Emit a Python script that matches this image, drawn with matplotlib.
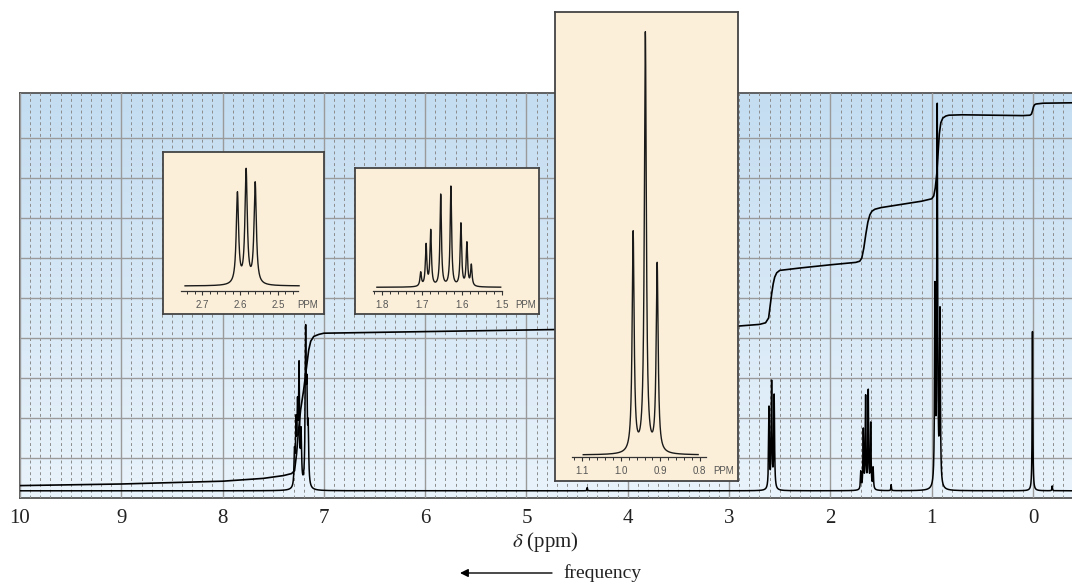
import numpy as np
import matplotlib.pyplot as plt
from matplotlib.colors import LinearSegmentedColormap
from matplotlib.ticker import MultipleLocator

plt.rcParams['mathtext.fontset'] = 'stix'

W, H = 1072, 582

# ---- main spectrum peaks: ppm and height above baseline (grid units)
baseline = 0.18
arom_ppm = [7.290, 7.275, 7.260, 7.245, 7.225, 7.180, 7.168, 7.155]
arom_h = [1.10, 1.90, 2.35, 3.25, 1.60, 4.15, 2.90, 1.80]
ch2a_ppm = [2.606, 2.580, 2.555]
ch2a_h = [2.12, 2.77, 2.42]
ch2b_ppm = [1.700, 1.675, 1.652, 1.626, 1.602, 1.578]
ch2b_h = [0.50, 1.57, 2.40, 2.54, 1.72, 0.60]
ch3_ppm = [0.968, 0.945, 0.918]
ch3_h = [5.23, 9.69, 4.60]
tms_ppm = [0.005]
tms_h = [3.98]
small_ppm = [4.40, 1.40, -0.19]
small_h = [0.08, 0.15, 0.12]

# ---- integral trace
integral_ppm = [10.0, 9.0, 8.0, 7.6, 7.4, 7.32, 7.29, 7.27, 7.25, 7.23,
                7.20, 7.17, 7.15, 7.13, 7.10, 7.05, 7.0, 6.5, 6.0, 5.0,
                4.0, 3.0, 2.7, 2.64, 2.61, 2.595, 2.58, 2.565, 2.55, 2.53,
                2.5, 2.4, 2.3, 2.0, 1.75, 1.71, 1.69, 1.67, 1.65, 1.63,
                1.61, 1.59, 1.56, 1.5, 1.3, 1.1, 1.0, 0.98, 0.965, 0.95,
                0.94, 0.925, 0.91, 0.89, 0.86, 0.83, 0.7, 0.4, 0.1, 0.03,
                0.015, 0.005, -0.005, -0.015, -0.03, -0.1, -0.385]
integral_val = [0.31, 0.35, 0.42, 0.49, 0.56, 0.61, 0.68, 1.1, 1.7, 2.2,
                2.7, 3.3, 3.7, 3.92, 4.04, 4.09, 4.12, 4.14, 4.16, 4.2,
                4.24, 4.28, 4.34, 4.38, 4.5, 4.8, 5.1, 5.35, 5.52, 5.63,
                5.69, 5.72, 5.75, 5.83, 5.89, 5.92, 6.0, 6.25, 6.6, 6.9,
                7.08, 7.17, 7.22, 7.26, 7.34, 7.42, 7.48, 7.55, 7.75, 8.1,
                8.5, 9.1, 9.38, 9.5, 9.55, 9.57, 9.58, 9.57, 9.56, 9.57,
                9.6, 9.68, 9.78, 9.83, 9.85, 9.87, 9.88]

ppm_labels = ['10', '9', '8', '7', '6', '5', '4', '3', '2', '1', '0']

# ---- expansions (heights in inset pixels above baseline)
ins1_ppm = [2.607, 2.584, 2.560]
ins1_h = [94.3, 117.7, 104.3]
ins2_ppm = [1.7025, 1.689, 1.6775, 1.6525, 1.627, 1.602, 1.587, 1.576]
ins2_h = [15.6, 44.0, 58.0, 93.3, 101.3, 64.6, 45.6, 23.3]
ins3_ppm = [0.969, 0.938, 0.908]
ins3_h = [224.3, 423.3, 192.7]
ins1_ticks = [2.7, 2.6, 2.5]
ins2_ticks = [1.8, 1.7, 1.6, 1.5]
ins3_ticks = [1.1, 1.0, 0.9, 0.8]


def lorentz(x, x0, g):
    return g ** 2 / ((x - x0) ** 2 + g ** 2)


def multiplet(x, centers, heights, g):
    # amplitudes chosen so the summed curve hits the read peak heights
    c = np.asarray(centers)
    m = lorentz(c[:, None], c[None, :], g)
    amps = np.linalg.solve(m, np.asarray(heights))
    return sum(a * lorentz(x, x0, g) for a, x0 in zip(amps, c))


def px_axes(fig, x0, y0, x1, y1, **kw):
    return fig.add_axes([x0 / W, 1 - y1 / H, (x1 - x0) / W, (y1 - y0) / H], **kw)


fig = plt.figure(figsize=(W / 100, H / 100), dpi=100)
fig.patch.set_facecolor('white')

XL = (10.0, -0.385)
YL = (0.0, 10.125)
ax = px_axes(fig, 20, 93, 1072, 498)

bg = LinearSegmentedColormap.from_list('bg', ['#e9f3fb', '#c4ddf1'])
ax.imshow(np.linspace(0, 1, 256)[:, None], origin='lower', cmap=bg,
          extent=[XL[0], XL[1], YL[0], YL[1]], aspect='auto', zorder=0)

ax.set_xlim(*XL)
ax.set_ylim(*YL)
ax.set_xticks(range(10, -1, -1))
ax.set_xticklabels(ppm_labels, family='Liberation Serif', fontsize=15, color='#222222')
ax.xaxis.set_minor_locator(MultipleLocator(0.1))
ax.set_yticks(range(1, 10))
ax.set_yticklabels([])
ax.tick_params(which='both', length=0)
ax.tick_params(axis='x', pad=8)
ax.grid(which='major', color='#9a9a9a', lw=1.0, zorder=1)
ax.grid(which='minor', axis='x', color='#8c8c8c', lw=0.7, ls=(0, (3, 3)), zorder=1)
ax.set_axisbelow(False)
for s in ['top', 'left', 'bottom']:
    ax.spines[s].set_color('#555555')
    ax.spines[s].set_linewidth(1.3)
ax.spines['right'].set_visible(False)

x = np.linspace(-0.385, 10.0, 70000)
spec = np.full_like(x, baseline)
spec += multiplet(x, arom_ppm, arom_h, 0.0055)
spec += multiplet(x, ch2a_ppm, ch2a_h, 0.0045)
spec += multiplet(x, ch2b_ppm, ch2b_h, 0.004)
spec += multiplet(x, ch3_ppm, ch3_h, 0.0045)
spec += multiplet(x, tms_ppm, tms_h, 0.0035)
spec += multiplet(x, small_ppm, small_h, 0.003)
ax.plot(x, spec, color='black', lw=1.1, zorder=3)
ax.plot(integral_ppm, integral_val, color='black', lw=1.2, zorder=3)

# ---- expansions
insets = [
    dict(box=(163, 152, 324, 314), inner=(180.7, 160, 298.3, 290.7),
         xlim=(2.757, 2.446), span=(2.7455, 2.444), base=4.7,
         ppm=ins1_ppm, h=ins1_h, g=0.0037, ticks=ins1_ticks, ppm_x=2.449),
    dict(box=(355, 168, 539, 314), inner=(372.7, 175, 501.7, 290.7),
         xlim=(1.8225, 1.5), span=(1.812, 1.5025), base=3.4,
         ppm=ins2_ppm, h=ins2_h, g=0.0022, ticks=ins2_ticks, ppm_x=1.467),
    dict(box=(555, 12, 738, 481), inner=(571.7, 20, 706, 457.3),
         xlim=(1.125, 0.784), span=(1.0957, 0.804), base=2.3,
         ppm=ins3_ppm, h=ins3_h, g=0.003, ticks=ins3_ticks, ppm_x=0.766),
]

for d in insets:
    bx = px_axes(fig, *d['box'])
    bx.set_facecolor('#fcefd9')
    bx.set_xticks([])
    bx.set_yticks([])
    for s in bx.spines.values():
        s.set_color('#444444')
        s.set_linewidth(1.3)

    x0, y0, x1, y1 = d['inner']
    ia = px_axes(fig, x0, y0, x1, y1)
    ia.patch.set_visible(False)
    for s in ['top', 'left', 'right']:
        ia.spines[s].set_visible(False)
    ia.spines['bottom'].set_color('#333333')
    ia.spines['bottom'].set_linewidth(0.9)
    ia.set_xlim(*d['xlim'])
    ia.set_ylim(-d['base'], (y1 - y0) - d['base'])
    ia.set_yticks([])
    ia.set_xticks(d['ticks'])
    ia.set_xticklabels(['%.1f' % t for t in d['ticks']],
                       family='Liberation Sans', fontsize=7, color='#555555')
    ia.xaxis.set_minor_locator(MultipleLocator(0.02))
    ia.tick_params(axis='x', which='major', direction='out', length=3.2,
                   width=0.8, color='#333333', pad=3.4)
    ia.tick_params(axis='x', which='minor', direction='out', length=2.0,
                   width=0.7, color='#333333')

    xs = np.linspace(d['span'][0], d['span'][1], 4000)
    ys = multiplet(xs, d['ppm'], d['h'], d['g'])
    ia.plot(xs, ys, color='#1a1a1a', lw=1.0, clip_on=False)
    ia.annotate('PPM', xy=(d['ppm_x'], 0), xycoords=ia.get_xaxis_transform(),
                xytext=(0, -6.6), textcoords='offset points', ha='left', va='top',
                family='Liberation Sans', fontsize=7, color='#555555')

# ---- axis title and frequency arrow
fig.text(545 / W, 1 - 542 / H, r'$\delta$ (ppm)', ha='center', va='center',
         family='Liberation Serif', fontsize=15, color='#222222')
ax.annotate('', xy=(460, H - 573), xycoords='figure pixels',
            xytext=(552, H - 573), textcoords='figure pixels',
            arrowprops=dict(arrowstyle='-|>', color='black', lw=1.0,
                            mutation_scale=12, shrinkA=0, shrinkB=0),
            annotation_clip=False)
fig.text(563 / W, 1 - 573 / H, 'frequency', ha='left', va='center',
         family='Liberation Serif', fontsize=14, color='#222222')

fig.savefig('out.png', dpi=100)
